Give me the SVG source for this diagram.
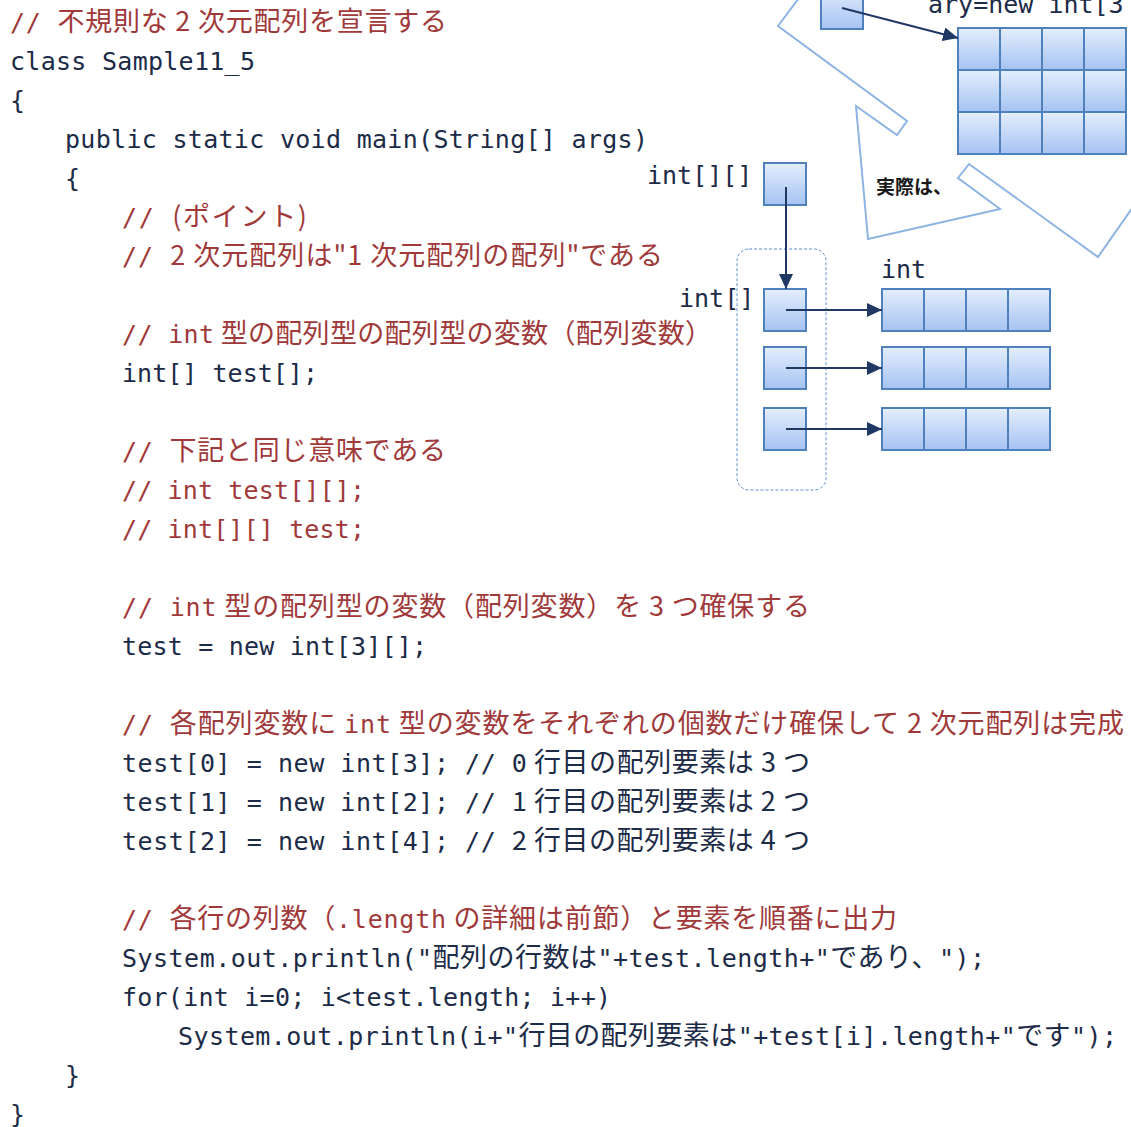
<svg xmlns="http://www.w3.org/2000/svg" width="1131" height="1127" viewBox="0 0 1131 1127">
<style>
text{font-family:"DejaVu Sans Mono","Noto Sans CJK JP",monospace;font-size:25px;}
.jp{font-family:"Noto Sans CJK JP",sans-serif;font-size:27px;}
.cd{fill:#1C2B47;}
.cm{fill:#A0393A;}
.dl{fill:#1C2B47;}
.cell{fill:url(#g);stroke:#4F81BD;stroke-width:2;}
.ar{stroke:#1F3864;stroke-width:2;fill:none;marker-end:url(#ah);}
.callout{fill:none;stroke:#8DB4E2;stroke-width:2;}
.note{font-family:"Noto Sans CJK JP",sans-serif;font-size:19px;font-weight:bold;fill:#1a1a1a;}
</style>
<defs>
<linearGradient id="g" x1="0" y1="0" x2="0" y2="1">
<stop offset="0" stop-color="#E4EEFD"/>
<stop offset="1" stop-color="#A6C3F2"/>
</linearGradient>
<marker id="ah" markerUnits="userSpaceOnUse" markerWidth="16" markerHeight="14" refX="15" refY="7" orient="auto">
<path d="M0,0 L15,7 L0,14 z" fill="#1F3864"/>
</marker>
</defs>
<rect width="1131" height="1127" fill="#FFFFFF"/>

<g id="code">
<text class="cm" x="10" y="31" textLength="437" lengthAdjust="spacing">// <tspan class="jp">不規則な 2 次元配列を宣言する</tspan></text>
<text class="cd" x="10" y="70" textLength="245" lengthAdjust="spacing">class Sample11_5</text>
<text class="cd" x="10" y="109">{</text>
<text class="cd" x="65" y="148" textLength="583" lengthAdjust="spacing">public static void main(String[] args)</text>
<text class="cd" x="65" y="187">{</text>
<text class="cm" x="122" y="226" textLength="185" lengthAdjust="spacing">// <tspan class="jp">(ポイント)</tspan></text>
<text class="cm" x="122" y="265" textLength="541" lengthAdjust="spacing">// <tspan class="jp">2 次元配列は"1 次元配列の配列"である</tspan></text>
<text class="cm" x="122" y="343" textLength="590" lengthAdjust="spacing">// int<tspan class="jp"> 型の配列型の配列型の変数（配列変数）</tspan></text>
<text class="cd" x="122" y="382" textLength="196" lengthAdjust="spacing">int[] test[];</text>
<text class="cm" x="122" y="460" textLength="324" lengthAdjust="spacing">// <tspan class="jp">下記と同じ意味である</tspan></text>
<text class="cm" x="122" y="499" textLength="243" lengthAdjust="spacing">// int test[][];</text>
<text class="cm" x="122" y="538" textLength="243" lengthAdjust="spacing">// int[][] test;</text>
<text class="cm" x="122" y="616" textLength="688" lengthAdjust="spacing">// int<tspan class="jp"> 型の配列型の変数（配列変数）を 3 つ確保する</tspan></text>
<text class="cd" x="122" y="655" textLength="305" lengthAdjust="spacing">test = new int[3][];</text>
<text class="cm" x="122" y="733" textLength="1002" lengthAdjust="spacing">// <tspan class="jp">各配列変数に </tspan>int<tspan class="jp"> 型の変数をそれぞれの個数だけ確保して 2 次元配列は完成</tspan></text>
<text class="cd" x="122" y="772" textLength="688" lengthAdjust="spacing">test[0] = new int[3]; // 0<tspan class="jp"> 行目の配列要素は 3 つ</tspan></text>
<text class="cd" x="122" y="811" textLength="688" lengthAdjust="spacing">test[1] = new int[2]; // <tspan class="jp">1 行目の配列要素は 2 つ</tspan></text>
<text class="cd" x="122" y="850" textLength="688" lengthAdjust="spacing">test[2] = new int[4]; // <tspan class="jp">2 行目の配列要素は 4 つ</tspan></text>
<text class="cm" x="122" y="928" textLength="775" lengthAdjust="spacing">// <tspan class="jp">各行の列数（</tspan>.length<tspan class="jp"> の詳細は前節）と要素を順番に出力</tspan></text>
<text class="cd" x="122" y="967" textLength="863" lengthAdjust="spacing">System.out.println("<tspan class="jp">配列の行数は</tspan>"+test.length+"<tspan class="jp">であり、</tspan>");</text>
<text class="cd" x="122" y="1006" textLength="489" lengthAdjust="spacing">for(int i=0; i&lt;test.length; i++)</text>
<text class="cd" x="178" y="1045" textLength="939" lengthAdjust="spacing">System.out.println(i+"<tspan class="jp">行目の配列要素は</tspan>"+test[i].length+"<tspan class="jp">です</tspan>");</text>
<text class="cd" x="65" y="1084">}</text>
<text class="cd" x="10" y="1123">}</text>
</g>

<g id="callout">
<polyline class="callout" points="808,-14 778,26 907,121 897,135 856,106 868,239 1000,209 958,178 969,164 1098,257 1142,194"/>
<text class="note" x="876" y="194">実際は、</text>
</g>

<g id="ary-ref">
<rect class="cell" x="821" y="-14" width="42" height="43"/>
</g>
<g id="ary-label">
<text class="dl" x="928" y="13">ary=new int[3</text>
</g>
<g id="ary-grid">
<rect class="cell" x="958" y="28" width="42" height="42"/>
<rect class="cell" x="1000" y="28" width="42" height="42"/>
<rect class="cell" x="1042" y="28" width="42" height="42"/>
<rect class="cell" x="1084" y="28" width="42" height="42"/>
<rect class="cell" x="958" y="70" width="42" height="42"/>
<rect class="cell" x="1000" y="70" width="42" height="42"/>
<rect class="cell" x="1042" y="70" width="42" height="42"/>
<rect class="cell" x="1084" y="70" width="42" height="42"/>
<rect class="cell" x="958" y="112" width="42" height="42"/>
<rect class="cell" x="1000" y="112" width="42" height="42"/>
<rect class="cell" x="1042" y="112" width="42" height="42"/>
<rect class="cell" x="1084" y="112" width="42" height="42"/>
</g>

<g id="int2d">
<text class="dl" x="647" y="184">int[][]</text>
<rect class="cell" x="764" y="163" width="42" height="42"/>
</g>

<g id="int1d-group">
<rect x="737" y="249" width="89" height="241" rx="12" fill="none" stroke="#5B8FD0" stroke-width="1" stroke-dasharray="3,2"/>
<text class="dl" x="679" y="307">int[]</text>
<rect class="cell" x="764" y="289" width="42" height="42"/>
<rect class="cell" x="764" y="347" width="42" height="42"/>
<rect class="cell" x="764" y="408" width="42" height="42"/>
</g>

<g id="int-rows">
<text class="dl" x="881" y="278">int</text>
<rect class="cell" x="882" y="289" width="42" height="42"/>
<rect class="cell" x="924" y="289" width="42" height="42"/>
<rect class="cell" x="966" y="289" width="42" height="42"/>
<rect class="cell" x="1008" y="289" width="42" height="42"/>
<rect class="cell" x="882" y="347" width="42" height="42"/>
<rect class="cell" x="924" y="347" width="42" height="42"/>
<rect class="cell" x="966" y="347" width="42" height="42"/>
<rect class="cell" x="1008" y="347" width="42" height="42"/>
<rect class="cell" x="882" y="408" width="42" height="42"/>
<rect class="cell" x="924" y="408" width="42" height="42"/>
<rect class="cell" x="966" y="408" width="42" height="42"/>
<rect class="cell" x="1008" y="408" width="42" height="42"/>
</g>

<g id="connectors">
<line class="ar" x1="842" y1="8" x2="958" y2="38"/>
<line class="ar" x1="786" y1="187" x2="786" y2="289"/>
<line class="ar" x1="786" y1="310" x2="882" y2="310"/>
<line class="ar" x1="786" y1="368" x2="882" y2="368"/>
<line class="ar" x1="786" y1="429" x2="882" y2="429"/>
</g>
</svg>
